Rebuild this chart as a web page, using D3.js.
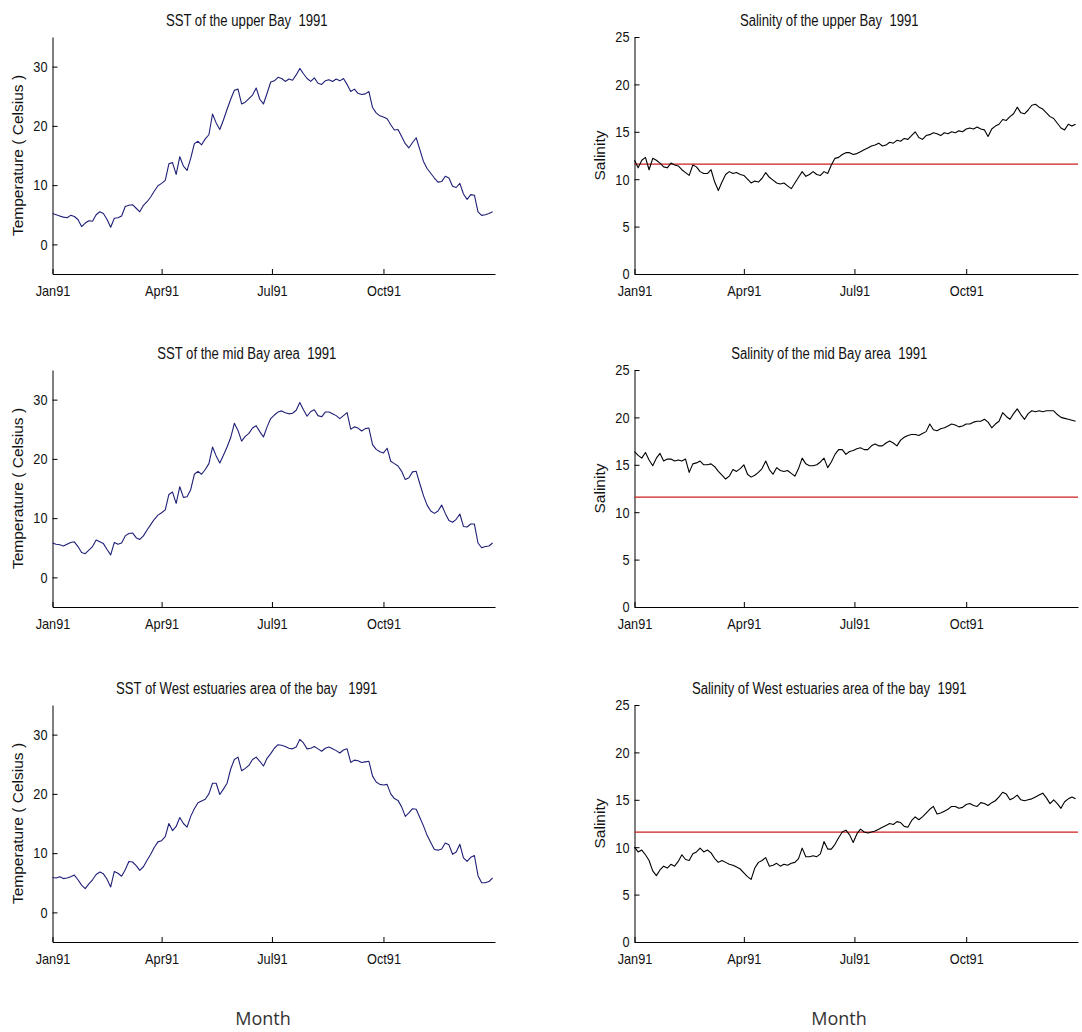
<!DOCTYPE html>
<html>
<head>
<meta charset="utf-8">
<script src="https://cdn.jsdelivr.net/npm/d3@7"></script>
<style>
  body { margin: 0; background: #fff; }
  text { font-family: "Liberation Sans", Arial, sans-serif; }
</style>
</head>
<body>
<div id="chart"></div>
<script>
// daily series sampled every 3 days from 1 Jan 1991
const stepDays = 3;

const monthLabels = ["Jan91", "Apr91", "Jul91", "Oct91"];
const monthTickDates = ["1991-01-01", "1991-04-01", "1991-07-01", "1991-10-01"];
const sstTicks = [0, 10, 20, 30];
const sstDomain = [-5, 35];
const salTicks = [0, 5, 10, 15, 20, 25];
const salDomain = [0, 25];
const salinityRef = 11.6;

const sstUpper = [5.2,5.0,4.8,4.6,4.5,4.9,4.7,4.2,3.0,3.6,
  4.0,3.9,5.0,5.5,5.2,4.2,2.9,4.4,4.5,4.8,
  6.4,6.6,6.7,6.1,5.5,6.6,7.2,8.0,9.0,9.9,
  10.3,10.8,13.6,13.8,11.8,14.8,13.2,12.5,14.5,17.0,
  17.4,16.8,17.8,18.5,22.0,20.5,19.4,21.0,22.8,24.5,
  26.0,26.2,23.7,24.0,24.6,25.2,26.4,24.5,23.7,25.5,
  27.4,27.6,28.2,28.0,27.5,27.9,27.7,28.6,29.7,28.8,
  28.0,27.5,28.1,27.2,27.0,27.6,27.8,27.5,27.9,27.6,
  28.0,27.0,25.8,26.2,25.5,25.3,25.4,25.8,23.1,22.2,
  21.7,21.5,21.2,20.2,19.3,19.4,18.2,17.0,16.3,17.2,
  18.0,16.0,14.0,12.8,12.0,11.2,10.5,10.6,11.5,11.2,
  9.8,9.6,10.3,8.5,7.6,8.4,8.3,5.5,4.9,5.0,
  5.2,5.5];

const sstMid = [5.8,5.6,5.5,5.3,5.6,5.9,6.0,5.2,4.2,4.0,
  4.6,5.2,6.3,6.0,5.7,4.7,3.8,5.9,5.6,5.8,
  7.0,7.4,7.5,6.7,6.4,7.0,8.0,8.9,9.8,10.5,
  10.9,11.4,14.0,14.4,12.5,15.3,13.5,13.6,14.8,17.4,
  17.9,17.4,18.2,19.2,22.0,20.5,19.3,20.6,22.0,23.6,
  26.0,24.8,23.0,23.8,24.3,25.2,25.6,24.6,23.7,25.4,
  26.8,27.4,27.9,28.1,27.8,27.6,27.7,28.2,29.5,28.3,
  27.2,28.0,28.3,27.3,27.1,27.9,27.9,27.6,27.3,26.8,
  27.3,27.8,25.0,25.4,25.2,24.7,25.1,25.2,22.4,21.6,
  21.2,21.0,21.8,19.6,19.2,18.8,17.9,16.5,16.8,17.8,
  17.9,15.8,13.8,12.2,11.2,10.8,11.2,12.2,10.8,9.6,
  9.3,9.8,10.7,8.6,8.5,9.0,9.0,5.8,5.0,5.2,
  5.3,5.8];

const sstWest = [5.9,5.8,6.0,5.7,5.8,6.0,6.3,5.5,4.6,4.0,
  4.8,5.5,6.4,6.8,6.5,5.6,4.3,6.9,6.6,6.1,
  7.2,8.6,8.5,7.9,7.1,7.7,8.8,9.8,11.0,11.9,
  12.1,12.8,15.0,13.8,14.5,16.0,15.0,14.4,16.2,17.5,
  18.5,18.8,19.1,20.0,21.8,21.8,19.9,20.8,21.8,24.2,
  25.8,26.2,23.9,24.3,24.8,25.8,26.2,25.5,24.7,26.0,
  26.8,27.7,28.3,28.2,28.0,27.7,27.6,27.9,29.2,28.6,
  27.6,27.7,28.0,27.6,27.2,27.7,27.9,27.6,27.3,26.9,
  27.4,27.6,25.3,25.7,25.6,25.3,25.4,25.5,23.0,22.0,
  21.6,21.5,21.6,20.0,19.2,18.9,17.8,16.2,16.8,17.5,
  17.4,16.0,14.6,13.0,11.8,10.6,10.5,10.7,11.7,11.4,
  9.8,10.2,11.5,9.2,8.6,9.3,9.6,6.2,5.0,5.0,
  5.2,5.8];

const salUpper = [12.0,11.2,12.0,12.3,11.0,12.2,12.0,11.7,11.3,11.2,
  11.7,11.5,11.4,11.0,10.7,10.4,11.5,11.3,10.8,10.6,
  10.6,11.0,9.7,8.8,9.7,10.5,10.8,10.6,10.7,10.5,
  10.4,10.0,9.6,9.8,9.7,10.1,10.7,10.2,9.9,9.6,
  9.5,9.6,9.3,9.0,9.6,10.2,10.8,10.3,10.5,10.8,
  10.5,10.4,10.8,10.6,11.5,12.2,12.3,12.6,12.8,12.8,
  12.6,12.7,12.9,13.1,13.3,13.5,13.6,13.8,13.5,13.6,
  13.9,13.8,14.1,14.0,14.3,14.2,14.6,15.0,14.4,14.2,
  14.6,14.7,14.9,14.8,14.6,14.9,14.8,15.0,14.9,15.1,
  15.0,15.3,15.4,15.3,15.5,15.3,15.2,14.5,15.3,15.6,
  15.8,16.3,16.2,16.6,16.9,17.6,17.0,16.9,17.3,17.8,
  17.9,17.6,17.4,17.0,16.6,16.4,15.9,15.4,15.2,15.8,
  15.6,15.8];

const salMid = [16.4,16.0,15.7,16.3,15.5,14.9,15.7,16.2,15.4,15.6,
  15.6,15.4,15.5,15.4,15.6,14.2,15.1,15.2,15.4,15.0,
  15.0,15.1,14.8,14.3,13.9,13.5,13.8,14.5,14.3,14.6,
  15.0,14.0,13.7,13.9,14.2,14.6,15.4,14.5,14.0,14.7,
  14.4,14.3,14.4,14.1,13.8,14.6,15.7,15.1,14.9,14.9,
  15.0,15.3,15.7,14.7,15.3,16.1,16.6,16.6,16.1,16.4,
  16.5,16.7,16.8,16.6,16.6,17.0,17.2,17.0,17.0,17.3,
  17.5,17.3,17.0,17.6,17.9,18.1,18.2,18.2,18.1,18.3,
  18.5,19.3,18.7,18.6,18.8,18.9,19.1,19.3,19.2,19.0,
  19.1,19.3,19.3,19.5,19.6,19.6,19.8,19.5,18.9,19.3,
  19.6,20.5,20.1,19.8,20.4,20.9,20.3,19.8,20.4,20.7,
  20.6,20.7,20.6,20.7,20.7,20.7,20.3,20.0,19.9,19.8,
  19.7,19.6];

const salWest = [10.0,9.5,9.7,9.2,8.6,7.5,7.0,7.6,8.0,7.8,
  8.2,8.0,8.5,9.2,8.7,8.6,9.3,9.5,9.9,9.5,
  9.7,9.4,8.8,8.4,8.6,8.4,8.2,8.1,7.9,7.7,
  7.3,6.9,6.6,7.8,8.4,8.6,8.9,8.0,8.1,8.3,
  8.0,8.2,8.1,8.3,8.4,8.8,9.9,9.0,9.0,9.1,
  9.0,9.3,10.6,9.8,9.8,10.3,11.0,11.6,11.8,11.3,
  10.5,11.4,11.9,11.6,11.5,11.6,11.7,11.9,12.1,12.3,
  12.5,12.4,12.7,12.6,12.2,12.1,12.8,13.2,12.9,13.2,
  13.6,14.0,14.3,13.5,13.6,13.8,14.0,14.3,14.3,14.1,
  14.2,14.5,14.6,14.4,14.3,14.7,14.6,14.4,14.7,14.9,
  15.3,15.8,15.6,15.0,15.2,15.5,15.0,14.9,15.0,15.1,
  15.3,15.5,15.7,15.2,14.6,15.0,14.6,14.1,14.8,15.1,
  15.3,15.1];

const panels = [
  { title: "SST of the upper Bay  1991", values: sstUpper, kind: "sst", col: 0, row: 0 },
  { title: "Salinity of the upper Bay  1991", values: salUpper, kind: "sal", col: 1, row: 0 },
  { title: "SST of the mid Bay area  1991", values: sstMid, kind: "sst", col: 0, row: 1 },
  { title: "Salinity of the mid Bay area  1991", values: salMid, kind: "sal", col: 1, row: 1 },
  { title: "SST of West estuaries area of the bay   1991", values: sstWest, kind: "sst", col: 0, row: 2 },
  { title: "Salinity of West estuaries area of the bay  1991", values: salWest, kind: "sal", col: 1, row: 2 },
];

// layout
const W = 1082, H = 1032;
const colX = [52.5, 634.5];
const colW = [442.5, 443.5];
const rowTop = [37, 370, 705];
const plotH = 237;

const svg = d3.select("#chart").append("svg")
  .attr("width", W)
  .attr("height", H)
  .style("background", "#fff");

const start = new Date(Date.UTC(1991, 0, 1));
const end = new Date(Date.UTC(1992, 0, 1));
const dateOf = i => new Date(start.getTime() + i * stepDays * 86400000);
const tickDates = monthTickDates.map(s => new Date(s + "T00:00:00Z"));

// squeeze text horizontally (matlab's narrow screen font)
const condense = (sel, k) => sel.each(function () {
  const len = this.getComputedTextLength();
  d3.select(this).attr("textLength", len * k).attr("lengthAdjust", "spacingAndGlyphs");
});

panels.forEach(p => {
  const w = colW[p.col];
  const g = svg.append("g")
    .attr("transform", `translate(${colX[p.col]},${rowTop[p.row]})`);

  const x = d3.scaleUtc().domain([start, end]).range([0, w]);
  const y = d3.scaleLinear()
    .domain(p.kind === "sst" ? sstDomain : salDomain)
    .range([plotH, 0]);

  // x axis
  const xa = g.append("g")
    .attr("transform", `translate(0,${plotH})`)
    .call(d3.axisBottom(x)
      .tickValues(tickDates)
      .tickFormat((d, i) => monthLabels[i])
      .tickSizeInner(-5)
      .tickSizeOuter(0)
      .tickPadding(11));

  // y axis
  const ya = g.append("g")
    .call(d3.axisLeft(y)
      .tickValues(p.kind === "sst" ? sstTicks : salTicks)
      .tickSizeInner(-5)
      .tickSizeOuter(0)
      .tickPadding(5));

  [xa, ya].forEach(a => {
    a.attr("font-size", 15).attr("font-family", null);
    a.selectAll("path, line").attr("stroke", "#000");
    a.selectAll("text").attr("fill", "#111").call(condense, 0.85);
  });

  if (p.kind === "sal") {
    g.append("line")
      .attr("x1", x(start)).attr("x2", x(end))
      .attr("y1", y(salinityRef)).attr("y2", y(salinityRef))
      .attr("stroke", "#cc1f1f")
      .attr("stroke-width", 1.3);
  }

  const line = d3.line()
    .x((d, i) => x(dateOf(i)))
    .y(d => y(d));

  g.append("path")
    .datum(p.values)
    .attr("fill", "none")
    .attr("stroke", p.kind === "sst" ? "#1f1f78" : "#000")
    .attr("stroke-width", 1.1)
    .attr("stroke-linejoin", "round")
    .attr("d", line);

  // title
  g.append("text")
    .attr("x", w / 2 - 27)
    .attr("y", -11)
    .attr("text-anchor", "middle")
    .attr("font-size", 16)
    .attr("fill", "#111")
    .style("white-space", "pre")
    .text(p.title)
    .call(condense, 0.82);

  // y label
  g.append("text")
    .attr("transform", `translate(-35,${plotH / 2}) rotate(-90)`)
    .attr("text-anchor", "middle")
    .attr("dy", "0.35em")
    .attr("font-size", 15.5)
    .attr("fill", "#111")
    .style("white-space", "pre")
    .text(p.kind === "sst" ? "Temperature ( Celsius )" : "Salinity");
});

// shared x label under each column
[263, 839].forEach(cx => {
  svg.append("text")
    .attr("x", cx)
    .attr("y", 1025)
    .attr("text-anchor", "middle")
    .attr("font-size", 18)
    .attr("fill", "#333")
    .style("font-family", "'Open Sans', sans-serif")
    .text("Month");
});
</script>
</body>
</html>
